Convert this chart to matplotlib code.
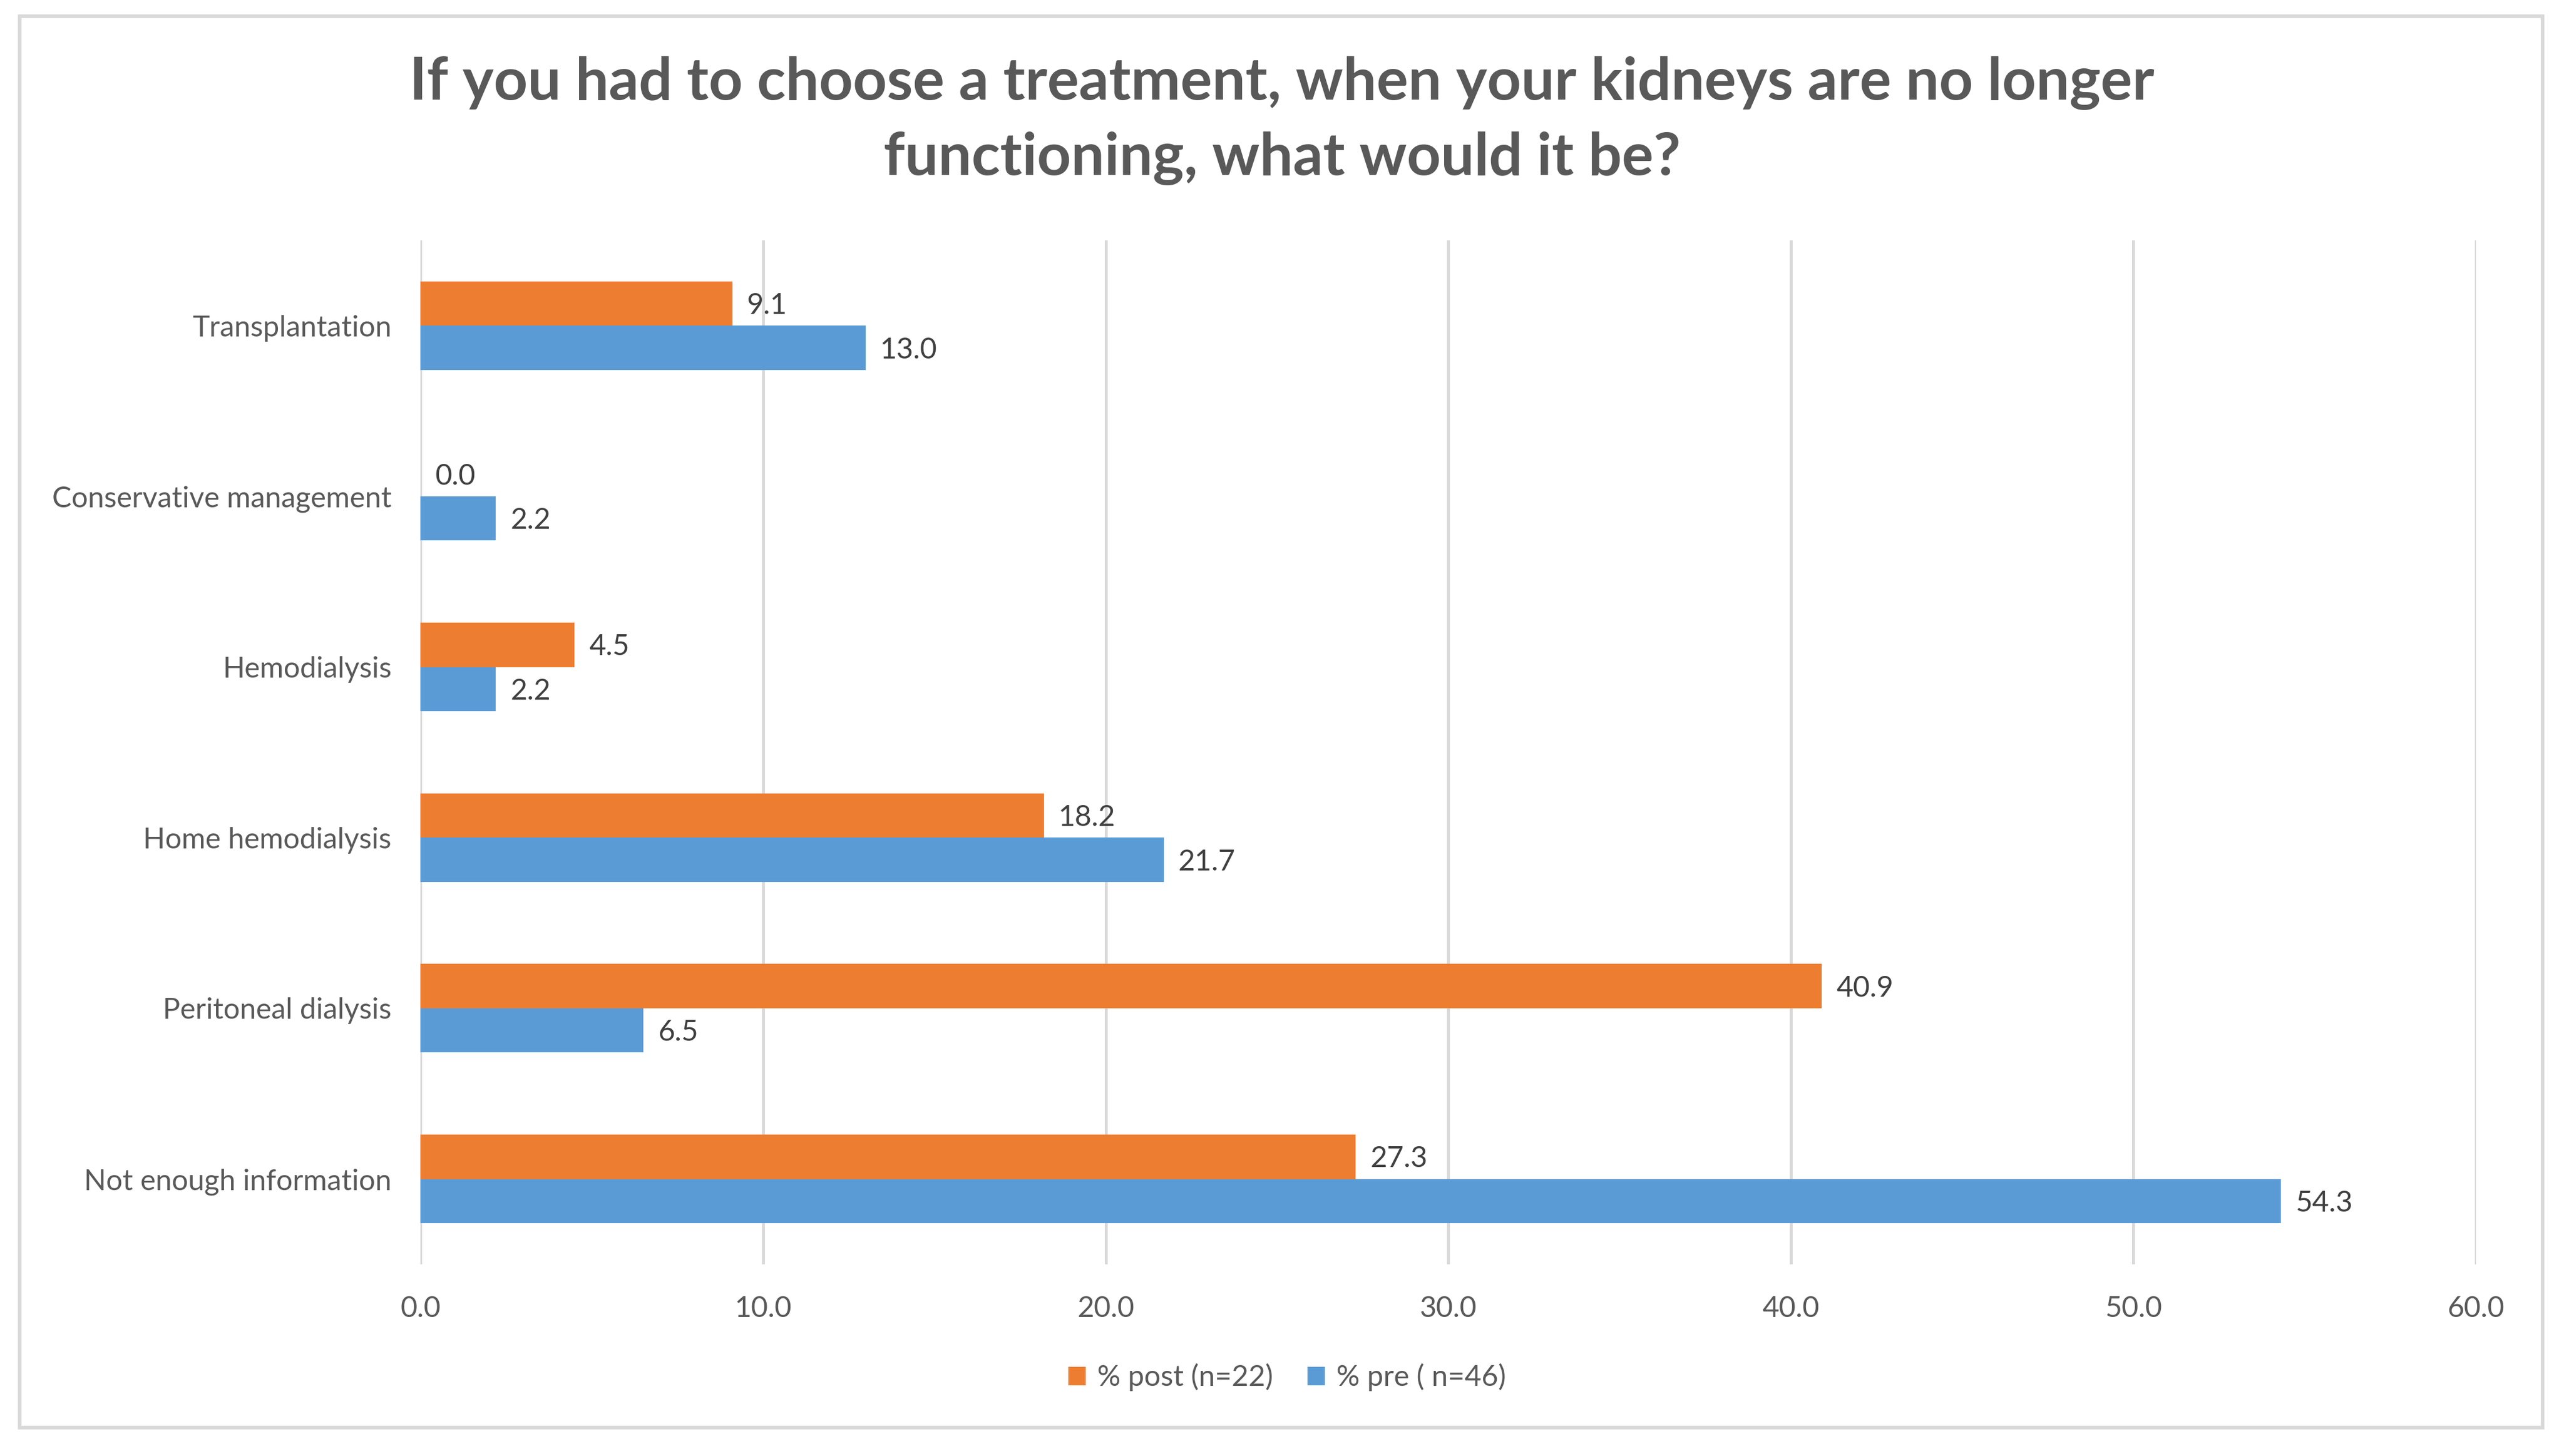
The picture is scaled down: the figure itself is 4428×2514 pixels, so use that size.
import numpy as np
import matplotlib
matplotlib.use('Agg')
import matplotlib.pyplot as plt
from matplotlib.patches import Rectangle

# データ
categories = ['Transplantation', 'Conservative management', 'Hemodialysis',
              'Home hemodialysis', 'Peritoneal dialysis', 'Not enough information']
post_values = [9.1, 0.0, 4.5, 18.2, 40.9, 27.3]
pre_values = [13.0, 2.2, 2.2, 21.7, 6.5, 54.3]
xticks = [0, 10, 20, 30, 40, 50, 60]

orange = '#ED7D31'
blue = '#5B9BD5'
text_color = '#595959'

plt.rcParams['font.family'] = ['Lato', 'DejaVu Sans']

fig = plt.figure(figsize=(14.76, 8.38), dpi=300)
ax = fig.add_axes([0.164, 0.1317, 0.8017, 0.7033])

y = np.arange(len(categories))
h = 0.26
bars_post = ax.barh(y - h / 2, post_values, height=h, color=orange, label='% post (n=22)', zorder=3)
bars_pre = ax.barh(y + h / 2, pre_values, height=h, color=blue, label='% pre ( n=46)', zorder=3)

for bars in (bars_post, bars_pre):
    for b in bars:
        w = b.get_width()
        ax.annotate(f'{w:.1f}', (w, b.get_y() + b.get_height() / 2),
                    xytext=(6, -1), textcoords='offset points',
                    va='center', ha='left', fontsize=12, color='#404040')

ax.set_ylim(len(categories) - 0.5, -0.5)
ax.set_xlim(0, 60)
ax.set_xticks(xticks)
ax.set_xticklabels([f'{t:.1f}' for t in xticks])
ax.set_yticks(y)
ax.set_yticklabels(categories)
ax.tick_params(axis='both', length=0, labelsize=12, labelcolor=text_color)
ax.tick_params(axis='x', pad=13)
ax.tick_params(axis='y', pad=12)
ax.grid(axis='x', color='#D9D9D9', linewidth=1.2, zorder=0)
for s in ax.spines.values():
    s.set_visible(False)

fig.text(0.5, 0.917, 'If you had to choose a treatment, when your kidneys are no longer\nfunctioning, what would it be?',
         ha='center', va='center', fontsize=24.5, fontweight='bold', color=text_color, linespacing=1.5)

handles = [bars_post, bars_pre]
leg = fig.legend(handles=handles, labels=['% post (n=22)', '% pre ( n=46)'],
                 loc='center', bbox_to_anchor=(0.502, 0.054), ncol=2, frameon=False,
                 fontsize=12, handlelength=0.6, handleheight=0.6, handletextpad=0.4,
                 columnspacing=1.2)
for t in leg.get_texts():
    t.set_color(text_color)

fig.patches.append(Rectangle((34 / 4428, 1 - 2465 / 2514), (4391 - 34) / 4428, (2465 - 28) / 2514,
                             transform=fig.transFigure, fill=False, edgecolor='#D9D9D9', linewidth=1.5))

fig.savefig('out.png', dpi=300)
